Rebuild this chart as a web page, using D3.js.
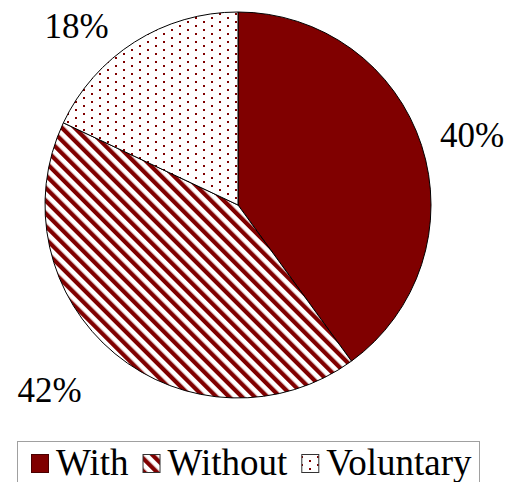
<!DOCTYPE html>
<html>
<head>
<meta charset="utf-8">
<script src="https://cdn.jsdelivr.net/npm/d3@7/dist/d3.min.js"></script>
</head>
<body style="margin:0">
<svg id="chart" width="506" height="482" style="display:block"></svg>
<script>
// Share of each category
const categories = ["With", "Without", "Voluntary"];
const shares = [40, 42, 18];
const labels = ["40%", "42%", "18%"];
const fills = ["solid", "stripes", "dots"];

const cx = 238, cy = 205, radius = 193;
const red = "#800000";
const serif = "'Liberation Serif'";

const svg = d3.select("#chart");
const defs = svg.append("defs");

// diagonal stripe fill
const sp = 9;
const stripes = defs.append("pattern")
  .attr("id", "stripes")
  .attr("patternUnits", "userSpaceOnUse")
  .attr("width", sp).attr("height", sp)
  .attr("patternTransform", "rotate(-45)");
stripes.append("rect").attr("width", sp).attr("height", sp).attr("fill", "#fff");
stripes.append("rect").attr("width", 4.3).attr("height", sp).attr("fill", red);

// staggered dot fill
const dots = defs.append("pattern")
  .attr("id", "dots")
  .attr("patternUnits", "userSpaceOnUse")
  .attr("width", 16).attr("height", 8)
  .attr("x", 5).attr("y", 4);
dots.append("rect").attr("width", 16).attr("height", 8).attr("fill", "#fff");
dots.append("rect").attr("x", 0).attr("y", 0).attr("width", 2).attr("height", 2).attr("fill", red);
dots.append("rect").attr("x", 8).attr("y", 4).attr("width", 2).attr("height", 2).attr("fill", red);

const paint = f => f === "solid" ? red : `url(#${f})`;

const pie = d3.pie().sort(null).value(d => d)(shares);
const arc = d3.arc().innerRadius(0).outerRadius(radius);

const g = svg.append("g").attr("transform", `translate(${cx},${cy})`);
g.selectAll("path.slice")
  .data(pie)
  .join("path")
  .attr("class", "slice")
  .attr("d", arc)
  .attr("fill", (d, i) => paint(fills[i]))
  .attr("stroke", "#000")
  .attr("stroke-width", 1);

// percentage labels outside the rim, centred on the slice's mid-angle
const labelRx = 266, labelRy = 204, labelShift = -19;
g.selectAll("text.pct")
  .data(pie)
  .join("text")
  .attr("class", "pct")
  .each(function (d, i) {
    const a = (d.startAngle + d.endAngle) / 2;
    const sx = Math.sin(a), sy = -Math.cos(a);
    d3.select(this)
      .attr("x", sx * labelRx + labelShift)
      .attr("y", sy * labelRy + 5 + (sy > 0 ? 35 : 0))
      .attr("font-family", serif)
      .attr("font-size", 35)
      .attr("text-anchor", "middle")
      .text(labels[i]);
  });

// legend
const legend = svg.append("g");
legend.append("rect")
  .attr("x", 17.5).attr("y", 441.5)
  .attr("width", 462).attr("height", 60)
  .attr("fill", "#fff").attr("stroke", "#a0a0a0").attr("stroke-width", 1);

let lx = 31;
categories.forEach((c, i) => {
  legend.append("rect")
    .attr("x", lx + 0.5).attr("y", 454.5)
    .attr("width", 17).attr("height", 18)
    .attr("fill", paint(fills[i]))
    .attr("stroke", i === 0 ? "#4a0000" : "#333").attr("stroke-width", 1);
  const t = legend.append("text")
    .attr("x", lx + 25).attr("y", 475)
    .attr("font-family", serif)
    .attr("font-size", 37)
    .text(c);
  lx += 25 + t.node().getComputedTextLength() + 14;
});
</script>
</body>
</html>
